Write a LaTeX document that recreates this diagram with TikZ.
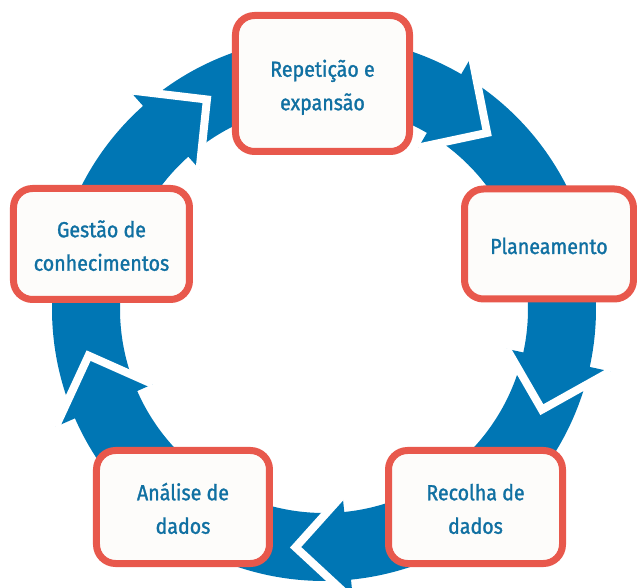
\documentclass[tikz,border=0pt]{standalone}
\usepackage{fontspec}
\setmainfont{Fira Sans}[FakeStretch=0.9, FakeBold=1.3]
\definecolor{ringblue}{RGB}{0,118,180}
\definecolor{boxred}{RGB}{232,88,76}
\definecolor{boxfill}{RGB}{253,252,250}
\definecolor{textblue}{RGB}{16,112,162}
\newcommand\TopStrut{\rule{0pt}{26pt}}
\newcommand\BotStrut{\rule[-6pt]{0pt}{6pt}}
% #1 = tail (notch) angle, #2 = tip angle
\newcommand\ringarrow[2]{%
  \fill[ringblue] ({#1}:240pt) -- ({#1+8.46}:272pt)
    arc[start angle={#1+8.46}, end angle={#2+12.5}, radius=272pt]
    -- ({#2+12.5}:293pt) -- ({#2}:240pt) -- ({#2+12.5}:187pt) -- ({#2+12.5}:204pt)
    arc[start angle={#2+12.5}, end angle={#1+7.49}, radius=204pt] -- cycle;}
\newcommand\headgap[1]{%
  \draw[white, line width=8pt, line join=miter] ({#1+12.5}:293pt) -- ({#1}:240pt) -- ({#1+12.5}:187pt);}
\begin{document}
\begin{tikzpicture}[x=1pt, y=1pt,
  box/.style={draw=boxred, line width=7pt, fill=boxfill, rounded corners=19pt,
    text=textblue, align=center, inner sep=0pt,
    font=\fontsize{21.8pt}{33.5pt}\selectfont}]
\useasboundingbox (-324,-279) rectangle (313,309);
\clip (-324,-279) rectangle (313,309);
\foreach \b in {47.2,-24.8,-96.8,-168.8,-240.8} {\ringarrow{\b+72}{\b}}
\foreach \b in {47.2,-24.8,-96.8,-168.8,-240.8} {\headgap{\b}}
\node[box, minimum width=174pt, minimum height=136pt] (rep) at (-1.5,225.5) {\TopStrut Repetição e\\expansão\BotStrut};
\node[box, minimum width=169pt, minimum height=110pt] (plan) at (225,65) {\TopStrut Planeamento\BotStrut};
\node[box, minimum width=176pt, minimum height=111pt] (gest) at (-222.5,65) {\TopStrut Gestão de\\conhecimentos\BotStrut};
\node[box, minimum width=173pt, minimum height=113pt] (anal) at (-141,-198) {\TopStrut Análise de\\dados\BotStrut};
\node[box, minimum width=174pt, minimum height=113pt] (rec) at (151.5,-198) {\TopStrut Recolha de\\dados\BotStrut};
\end{tikzpicture}
\end{document}
